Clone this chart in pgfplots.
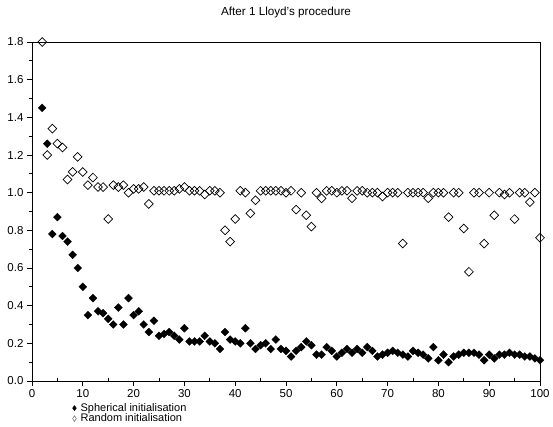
\documentclass[border=0pt]{standalone}
\usepackage{pgfplots}
\pgfplotsset{compat=1.18}
\usepackage{pgfplotstable}
\usepackage{fontspec}
\setmainfont{Liberation Sans}

% distortion after one Lloyd iteration, per number of clusters
\pgfplotstableread{
k   d
2   1.45
3   1.26
4   0.78
5   0.87
6   0.77
7   0.74
8   0.67
9   0.60
10  0.50
11  0.35
12  0.44
13  0.37
14  0.36
15  0.33
16  0.30
17  0.39
18  0.30
19  0.44
20  0.35
21  0.37
22  0.30
23  0.26
24  0.32
25  0.24
26  0.25
27  0.26
28  0.24
29  0.22
30  0.28
31  0.21
32  0.21
33  0.21
34  0.24
35  0.21
36  0.20
37  0.17
38  0.26
39  0.22
40  0.21
41  0.20
42  0.28
43  0.20
44  0.17
45  0.19
46  0.20
47  0.17
48  0.22
49  0.17
50  0.16
51  0.13
52  0.16
53  0.18
54  0.21
55  0.19
56  0.14
57  0.14
58  0.18
59  0.16
60  0.13
61  0.15
62  0.17
63  0.15
64  0.17
65  0.15
66  0.18
67  0.16
68  0.13
69  0.14
70  0.15
71  0.16
72  0.15
73  0.14
74  0.13
75  0.16
76  0.15
77  0.14
78  0.12
79  0.18
80  0.11
81  0.14
82  0.10
83  0.13
84  0.14
85  0.15
86  0.15
87  0.15
88  0.14
89  0.11
90  0.14
91  0.12
92  0.14
93  0.14
94  0.15
95  0.14
96  0.14
97  0.13
98  0.13
99  0.12
100 0.11
}\spherical

\pgfplotstableread{
k   d
2   1.80
3   1.20
4   1.34
5   1.26
6   1.24
7   1.07
8   1.11
9   1.19
10  1.11
11  1.04
12  1.08
13  1.03
14  1.03
15  0.86
16  1.04
17  1.03
18  1.04
19  1.00
20  1.02
21  1.02
22  1.03
23  0.94
24  1.01
25  1.01
26  1.01
27  1.01
28  1.01
29  1.02
30  1.03
31  1.01
32  1.01
33  1.01
34  0.99
35  1.01
36  1.01
37  1.00
38  0.80
39  0.74
40  0.86
41  1.01
42  1.00
43  0.89
44  0.96
45  1.01
46  1.01
47  1.01
48  1.01
49  1.01
50  1.00
51  1.01
52  0.91
53  1.00
54  0.88
55  0.82
56  1.00
57  0.97
58  1.01
59  1.01
60  1.00
61  1.01
62  1.01
63  0.97
64  1.01
65  1.01
66  1.00
67  1.00
68  1.00
69  0.98
70  1.00
71  1.00
72  1.00
73  0.73
74  1.00
75  1.00
76  1.00
77  1.00
78  0.97
79  1.00
80  1.00
81  1.00
82  0.87
83  1.00
84  1.00
85  0.81
86  0.58
87  1.00
88  1.00
89  0.73
90  1.00
91  0.88
92  1.00
93  0.99
94  1.00
95  0.86
96  1.00
97  1.00
98  0.95
99  1.00
100 0.76
}\random

\begin{document}
\begin{tikzpicture}
\begin{axis}[
  name=ax,
  scale only axis,
  width=508bp, height=339bp,
  xmin=0, xmax=100, ymin=0, ymax=1.8,
  xtick={0,10,...,100},
  extra x ticks={5,15,...,95},
  extra x tick labels={},
  extra x tick style={xtick align=inside, major tick length=3bp},
  ytick={0,0.2,...,1.8},
  minor ytick={0.1,0.3,...,1.7},
  xtick pos=bottom, ytick pos=left,
  axis line style={line width=0.8bp},
  x tick style={line width=0.7bp, black},
  y tick style={line width=0.7bp, black},
  major tick length=5bp,
  minor tick length=3bp,
  xtick align=outside,
  ytick align=outside,
  font=\fontsize{11.5bp}{13bp}\selectfont,
  ticklabel style={font=\fontsize{11.5bp}{13bp}\selectfont},
  /pgf/number format/assume math mode=true,
  yticklabel style={/pgf/number format/.cd, fixed, fixed zerofill, precision=1},
  xticklabel style={/pgf/number format/.cd, fixed, precision=0},
  title={After 1 Lloyd's procedure},
  title style={at={(axis description cs:0.5,1)}, anchor=base, yshift=20.5bp,
    font=\fontsize{11.7bp}{14bp}\selectfont},
  legend style={at={(axis description cs:0.079,-0.064)}, anchor=north west,
    draw=none, fill=none, inner sep=0pt, row sep=0pt,
    font=\fontsize{11bp}{12bp}\selectfont,
    nodes={inner sep=0.5bp},
    /tikz/every odd column/.append style={column sep=3.5bp}},
  legend cell align=left,
]
\addplot[only marks, mark=square*, mark size=2.8bp,
  mark options={rotate=45, fill=black, draw=black, line width=0.3bp},
  legend image code/.code={\draw[fill=black, draw=black, line width=0.3bp]
    (0bp,2.6bp) -- (1.9bp,0bp) -- (0bp,-2.6bp) -- (-1.9bp,0bp) -- cycle;}]
  table[x=k, y=d] {\spherical};
\addlegendentry{Spherical initialisation}
\addplot[only marks, mark=square, mark size=3.1bp,
  mark options={rotate=45, draw=black, line width=0.7bp},
  legend image code/.code={\draw[draw=black!60, line width=0.5bp]
    (0bp,2.8bp) -- (1.9bp,0bp) -- (0bp,-2.8bp) -- (-1.9bp,0bp) -- cycle;}]
  table[x=k, y=d] {\random};
\addlegendentry{Random initialisation}
\end{axis}
\pgfresetboundingbox
\path ([shift={(-32bp,-46bp)}]ax.south west) rectangle ([shift={(13bp,42bp)}]ax.north east);
\end{tikzpicture}
\end{document}
